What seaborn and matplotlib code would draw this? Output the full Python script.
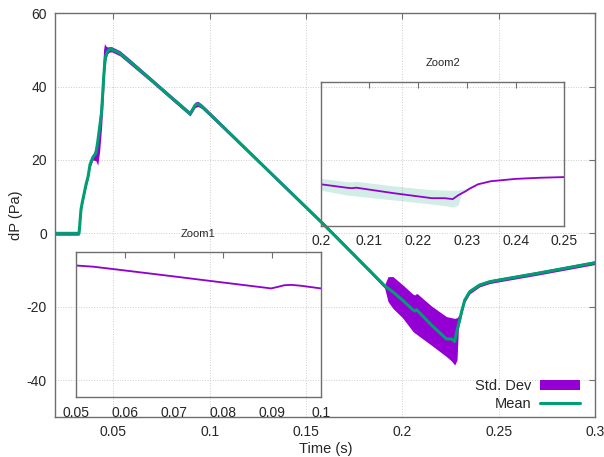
import numpy as np
import pandas as pd
import matplotlib
matplotlib.use("Agg")
import matplotlib.pyplot as plt
import seaborn as sns
from matplotlib.ticker import FormatStrFormatter

# time (s)
t = [0.020, 0.0323, 0.0327, 0.0333, 0.0340, 0.0350, 0.0360, 0.0370, 0.0380, 0.0395,
     0.0410, 0.0420, 0.0430, 0.0440, 0.0450, 0.0455, 0.0460, 0.0470, 0.0480, 0.0492,
     0.0535, 0.0587, 0.070, 0.080, 0.0890, 0.0898, 0.0910, 0.0925, 0.0940, 0.0960,
     0.100, 0.120, 0.140, 0.160, 0.183, 0.1908, 0.1925, 0.1951, 0.2000, 0.2055,
     0.2064, 0.2073, 0.2080, 0.2150, 0.2228, 0.2254, 0.2271, 0.2283, 0.2290, 0.2297,
     0.2306, 0.2323, 0.2349, 0.2400, 0.2452, 0.2504, 0.2700, 0.3000]
# mean dP (Pa)
mean_dp = [0.0, 0.0, 2.5, 6.5, 8.5, 11.0, 13.5, 15.5, 18.8, 20.8,
           21.8, 25.0, 29.0, 33.0, 42.0, 45.5, 48.0, 49.6, 50.1, 50.2,
           49.1, 46.8, 41.7, 37.1, 33.0, 32.6, 33.6, 35.0, 35.3, 34.6,
           32.6, 22.4, 12.2, 2.0, -10.2, -14.3, -15.0, -16.0, -18.2, -20.9,
           -21.2, -20.8, -21.2, -25.0, -28.8, -28.8, -29.5, -26.4, -25.0, -23.6,
           -21.5, -18.2, -15.9, -14.1, -13.2, -12.7, -10.9, -8.0]
# std. dev envelope
band_lo = [-0.5, -0.5, 1.5, 5.5, 7.8, 10.3, 12.8, 14.8, 18.0, 20.0,
           19.8, 18.6, 22.5, 29.0, 38.0, 43.5, 47.0, 48.9, 49.4, 49.5,
           48.4, 46.1, 41.1, 36.5, 32.4, 32.0, 33.0, 34.3, 34.6, 34.0,
           32.0, 21.9, 11.7, 1.5, -10.7, -15.0, -18.6, -20.5, -23.0, -26.8,
           -27.2, -27.5, -27.8, -30.5, -33.6, -34.8, -35.9, -34.5, -26.0, -24.3,
           -22.3, -18.8, -16.5, -14.6, -13.7, -13.2, -11.4, -8.5]
band_hi = [0.5, 0.5, 3.5, 7.5, 9.3, 11.8, 14.3, 16.3, 19.6, 21.6,
           23.5, 27.5, 33.0, 39.0, 50.0, 51.8, 51.2, 50.8, 50.9, 50.9,
           49.8, 47.5, 42.3, 37.7, 33.6, 33.2, 34.3, 35.8, 36.0, 35.2,
           33.2, 22.9, 12.7, 2.5, -9.7, -14.0, -11.8, -11.8, -14.0, -16.6,
           -16.8, -16.4, -16.6, -19.8, -22.7, -23.0, -23.2, -23.0, -22.5, -22.0,
           -20.5, -17.6, -15.3, -13.6, -12.7, -12.2, -10.4, -7.5]

main_xticks = [0.05, 0.1, 0.15, 0.2, 0.25, 0.3]
main_yticks = [-40, -20, 0, 20, 40, 60]
zoom1_ticks = [0.05, 0.06, 0.07, 0.08, 0.09, 0.1]
zoom2_ticks = [0.2, 0.21, 0.22, 0.23, 0.24, 0.25]

df = pd.DataFrame({'t': t, 'mean': mean_dp, 'lo': band_lo, 'hi': band_hi})

purple = '#9400D3'
green = '#009E73'
frame = '#6e6e6e'

sns.set_style("white")
plt.rcParams['font.family'] = ['Liberation Sans', 'DejaVu Sans']
plt.rcParams['axes.unicode_minus'] = False

fig = plt.figure(figsize=(6.04, 4.57), dpi=100)
ax = fig.add_axes([0.0916, 0.0882, 0.894, 0.8827])

ax.fill_between(df['t'], df['lo'], df['hi'], color=purple, lw=0, label='Std. Dev')
sns.lineplot(data=df, x='t', y='mean', ax=ax, color=green, lw=2.2, label='Mean')

ax.set_xlim(0.02, 0.3)
ax.set_ylim(-50, 60)
ax.set_xticks(main_xticks)
ax.set_yticks(main_yticks)
ax.xaxis.set_major_formatter(FormatStrFormatter('%g'))
ax.tick_params(direction='in', top=True, right=True, length=4, width=0.8,
               color=frame, labelsize=10, pad=6)
ax.grid(True, ls=':', color='#cccccc', lw=0.7)
for s in ax.spines.values():
    s.set_color(frame)
    s.set_linewidth(1.0)
ax.set_xlabel('Time (s)', fontsize=10.5, labelpad=2)
ax.set_ylabel('dP (Pa)', fontsize=10.5, labelpad=3)

ax.legend(loc='lower right', bbox_to_anchor=(0.982, 0.0), frameon=False,
          markerfirst=False, fontsize=10.5, handlelength=2.7,
          handletextpad=0.6, labelspacing=0.25, borderaxespad=0.0)


def inset(rect, lims, ticks, title):
    ia = fig.add_axes(rect)
    ia.patch.set_alpha(0)
    ia.fill_between(df['t'], df['lo'], df['hi'], color=green, alpha=0.18, lw=0)
    sns.lineplot(data=df, x='t', y='mean', ax=ia, color=purple, lw=1.3)
    ia.set_xlim(*lims)
    ia.set_ylim(-50, 60)
    ia.set_xticks(ticks)
    ia.set_yticks([])
    ia.xaxis.set_major_formatter(FormatStrFormatter('%g'))
    ia.tick_params(axis='x', direction='in', top=True, length=4, width=0.8,
                   color=frame, labelsize=10, pad=6)
    ia.set_xlabel('')
    ia.set_ylabel('')
    ia.set_title(title, fontsize=8, pad=11)
    for s in ia.spines.values():
        s.set_color(frame)
        s.set_linewidth(1.0)
    return ia


inset([0.1258, 0.1306, 0.4056, 0.3173], (0.05, 0.1), zoom1_ticks, 'Zoom1')
inset([0.531, 0.5055, 0.4033, 0.3158], (0.2, 0.25), zoom2_ticks, 'Zoom2')

fig.savefig('out.png', dpi=100)
